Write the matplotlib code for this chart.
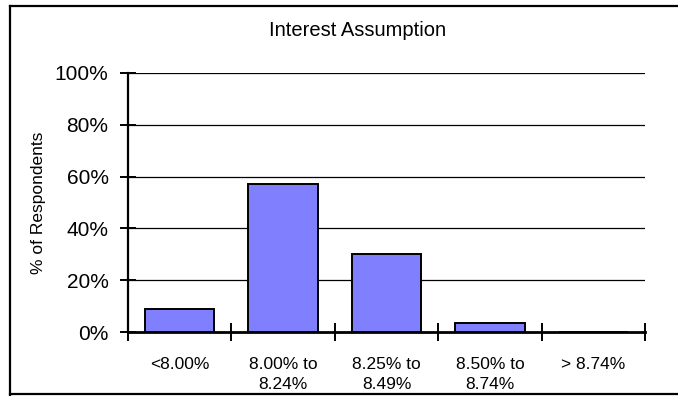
import matplotlib
matplotlib.use("Agg")
import matplotlib.pyplot as plt
from matplotlib.lines import Line2D
import numpy as np

# survey buckets for the assumed interest rate
categories = ["<8.00%", "8.00% to\n8.24%", "8.25% to\n8.49%", "8.50% to\n8.74%", "> 8.74%"]
share = [0.09, 0.57, 0.30, 0.036, 0.0]
y_ticks = [0.0, 0.2, 0.4, 0.6, 0.8, 1.0]
y_tick_labels = ["0%", "20%", "40%", "60%", "80%", "100%"]

plt.rcParams["font.family"] = ["Liberation Sans", "DejaVu Sans"]

W, H = 678, 396
fig = plt.figure(figsize=(W / 100, H / 100), dpi=100)
ax = fig.add_axes([128 / W, 1 - 332 / H, (645 - 128) / W, (332 - 73) / H])

x = np.arange(len(categories))
ax.bar(x, share, width=0.67, color="#8080FF", edgecolor="black", linewidth=1.4, zorder=3)

ax.set_xlim(-0.5, len(categories) - 0.5)
ax.set_ylim(0, 1.0)

# horizontal rules at each y tick
for yv in y_ticks[1:]:
    ax.axhline(yv, color="black", linewidth=0.9, zorder=1)

ax.set_yticks(y_ticks)
ax.set_yticklabels(y_tick_labels, fontsize=15)
ax.tick_params(axis="y", direction="inout", length=12, width=1.4, pad=8)

# category ticks sit on the bucket boundaries, labels at centres
ax.set_xticks(np.arange(len(categories) + 1) - 0.5)
ax.set_xticklabels([])
ax.set_xticks(x, minor=True)
ax.set_xticklabels(categories, minor=True, fontsize=12.5, linespacing=1.42)
ax.tick_params(axis="x", which="major", direction="inout", length=13, width=1.4)
ax.tick_params(axis="x", which="minor", length=0, pad=18)

for side in ("top", "right"):
    ax.spines[side].set_visible(False)
ax.spines["left"].set_linewidth(1.6)
ax.spines["bottom"].set_linewidth(2.0)
ax.spines["bottom"].set_zorder(4)

ax.set_ylabel("% of Respondents", fontsize=12.5, labelpad=6)
fig.text(358 / W, 1 - 30 / H, "Interest Assumption", ha="center", va="center", fontsize=14.5)

# outer frame around the chart
frame = dict(color="black", linewidth=1.6, transform=fig.transFigure)
fig.add_artist(Line2D([10 / W, 10 / W], [0, 1 - 6 / H], **frame))
fig.add_artist(Line2D([10 / W, 1], [1 - 6 / H, 1 - 6 / H], **frame))
fig.add_artist(Line2D([10 / W, 1], [1 - 393.5 / H, 1 - 393.5 / H], **frame))

fig.savefig("out.png", dpi=100)
